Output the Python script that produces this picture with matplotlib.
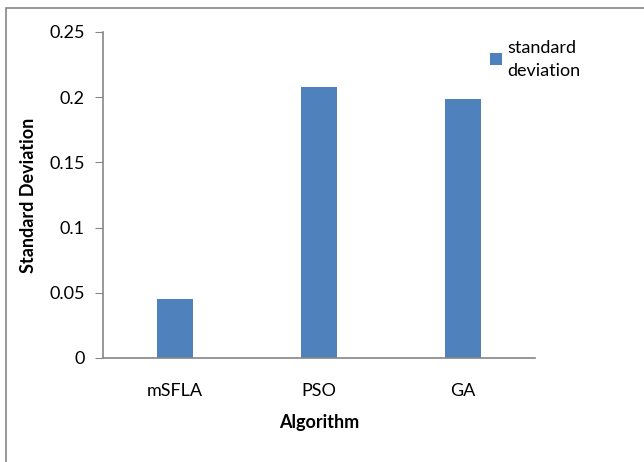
import matplotlib
matplotlib.use("Agg")
import matplotlib.pyplot as plt
from matplotlib.patches import Rectangle
from matplotlib.ticker import FuncFormatter

algorithms = ["mSFLA", "PSO", "GA"]
std_values = [0.045, 0.208, 0.199]
y_ticks = [0, 0.05, 0.1, 0.15, 0.2, 0.25]

plt.rcParams['font.family'] = ['Lato', 'DejaVu Sans']

fig = plt.figure(figsize=(6.44, 4.62), dpi=100)
ax = fig.add_axes([103 / 644, 1 - 358 / 462, 432 / 644, 326 / 462])

bar_color = '#4f81bd'
ax.bar(range(len(algorithms)), std_values, width=0.25, color=bar_color,
       label="standard\ndeviation")

ax.set_xlim(-0.5, len(algorithms) - 0.5)
ax.set_ylim(0, 0.25)
ax.set_yticks(y_ticks)
ax.yaxis.set_major_formatter(FuncFormatter(lambda v, p: '%g' % v))
ax.set_xticks(range(len(algorithms)))
ax.set_xticklabels(algorithms)

for s in ['top', 'right']:
    ax.spines[s].set_visible(False)
for s in ['left', 'bottom']:
    ax.spines[s].set_color('#868686')
    ax.spines[s].set_linewidth(1.2)
ax.tick_params(axis='y', length=6, color='#868686', labelsize=13, pad=7)
ax.tick_params(axis='x', length=0, labelsize=13, pad=18)

ax.set_xlabel("Algorithm", fontsize=13, fontweight='bold', labelpad=11)
ax.set_ylabel("Standard Deviation", fontsize=13, fontweight='bold', labelpad=9)

leg = ax.legend(loc='upper left', bbox_to_anchor=(490 / 644, 1 - 40 / 462),
                bbox_transform=fig.transFigure, frameon=False, fontsize=13,
                handlelength=0.65, handleheight=0.65, handletextpad=0.3,
                borderpad=0, borderaxespad=0)
for t in leg.get_texts():
    t.set_linespacing(1.5)

# chart border (cropped at right and bottom)
fig.patches.append(Rectangle((6 / 644, -0.1), 1.2, 1 - 8 / 462 + 0.1,
                             transform=fig.transFigure, fill=False,
                             edgecolor='#868686', linewidth=1.2))

fig.savefig("out.png", dpi=100)
